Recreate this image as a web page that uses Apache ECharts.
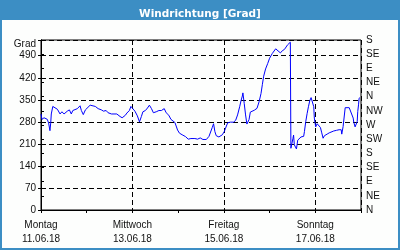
<!DOCTYPE html>
<html><head><meta charset="utf-8">
<script src="https://cdn.jsdelivr.net/npm/echarts@6/dist/echarts.min.js"></script>
<style>html,body{margin:0;padding:0;background:#fff}#c{width:400px;height:250px}</style>
</head><body><div id="c"></div>
<script>
const titleText = 'Windrichtung [Grad]';
const dayNames = ['Montag','Dienstag','Mittwoch','Donnerstag','Freitag','Samstag','Sonntag'];
const dayDates = ['11.06.18','12.06.18','13.06.18','14.06.18','15.06.18','16.06.18','17.06.18'];
const dirLabels = ['N','NE','E','SE','S','SW','W','NW','N','NE','E','SE','S'];
// hours since 11.06.18 00:00
const hours = [0,0.5,1.6,3.3,4.0,4.7,5.1,5.4,6.2,6.8,8.6,10.0,11.0,12.1,13.8,14.9,15.9,16.7,17.7,19.1,20.5,21.2,22.2,23.3,24.3,25.8,26.4,28.5,30.0,31.7,32.8,34.2,35.2,37.0,38.0,39.8,41.5,42.6,43.3,44.3,45.1,45.7,46.4,47.2,48.2,49.3,50.6,51.7,52.7,53.5,54.8,55.9,56.9,58.0,59.0,60.5,61.9,63.2,64.7,65.7,67.1,68.2,69.2,70.3,71.7,72.7,74.1,75.9,77.3,78.7,80.8,82.2,83.6,85.0,86.8,88.2,88.9,89.9,90.6,91.3,92.0,93.4,94.1,95.2,96.2,96.9,98.0,99.4,101.1,102.2,103.2,104.3,105.0,105.7,106.0,106.7,107.4,108.1,109.2,109.9,110.9,112.0,112.7,113.4,114.1,114.5,115.5,116.2,116.9,117.9,119.0,120.0,121.4,123.2,124.2,125.7,126.7,127.8,129.5,130.9,131.2,132.3,132.6,133.0,133.7,134.1,134.8,135.5,136.5,137.9,138.3,139.0,139.7,140.4,141.1,141.8,142.5,143.2,143.5,144.2,145.0,146.0,146.7,147.4,148.1,148.8,150.2,151.3,152.3,153.7,155.1,156.5,157.6,157.9,158.6,159.7,160.7,161.8,162.8,163.9,164.2,164.9,165.3,166.0,166.3,166.7,167.0,167.4];
const windDeg = [305,288,293,288,276,252,276,305,329,335,320,305,312,305,314,318,305,316,314,322,331,316,303,318,320,333,335,329,322,318,314,316,309,305,309,305,297,293,293,301,308,303,316,329,322,314,299,280,297,312,316,324,333,322,309,312,316,316,322,309,301,288,290,278,254,244,239,233,225,227,227,225,229,224,224,234,236,262,274,249,236,232,230,239,249,260,277,279,279,285,302,328,347,362,372,338,302,273,287,311,311,317,311,323,317,344,370,398,425,448,465,482,497,512,508,499,506,510,525,533,196,228,238,207,211,194,222,228,232,234,249,281,306,328,347,357,357,328,292,264,274,273,262,245,228,236,241,245,249,251,253,255,255,241,265,325,328,325,319,292,279,264,270,281,313,334,355,357];

const font = 'Liberation Sans, Arial, sans-serif';
const txt = '#111';
const chart = echarts.init(document.getElementById('c'), null, {renderer:'canvas'});
chart.setOption({
  animation:false,
  backgroundColor:'#fdfefd',
  graphic:[
    {type:'rect', z:-10, shape:{x:1,y:1,width:398,height:248}, style:{fill:'#fdfefd', stroke:'#3c8ec4', lineWidth:2}},
    {type:'rect', z:-9, shape:{x:0,y:0,width:400,height:20}, style:{fill:'#3c8ec4'}}
  ],
  title:{text:titleText, left:'center', top:4, textStyle:{color:'#fff', fontSize:10.5, fontWeight:'bold', fontFamily:'DejaVu Sans, Verdana, sans-serif'}},
  grid:{left:41, right:39, top:40, bottom:40, show:true, borderColor:'#000', borderWidth:1, backgroundColor:'transparent'},
  xAxis:[
    {type:'value', min:0, max:168, interval:48, position:'bottom',
     axisLine:{lineStyle:{color:'#000', width:1}},
     axisTick:{show:false},
     splitLine:{show:true, lineStyle:{color:'#000', type:[5,3], width:1}},
     axisLabel:{margin:8, color:txt, fontSize:10, fontFamily:font, lineHeight:14, showMaxLabel:false,
       formatter:function(v){const i=Math.round(v/24); if(i>=7) return ''; return dayNames[i]+'\n'+dayDates[i];}}},
    {type:'value', min:0, max:168, interval:24, position:'bottom',
     axisLine:{show:false}, axisLabel:{show:false}, splitLine:{show:false},
     axisTick:{show:true, length:3, lineStyle:{color:'#000'}}}
  ],
  yAxis:[
    {type:'value', min:0, max:540, interval:70, position:'left',
     axisLine:{show:true, lineStyle:{color:'#000'}},
     axisTick:{show:true, length:3, lineStyle:{color:'#000'}},
     splitLine:{show:true, lineStyle:{color:'#000', type:[5,3], width:1}},
     axisLabel:{margin:5, color:txt, fontSize:10, fontFamily:font, showMaxLabel:true,
       formatter:function(v){return v>=540 ? '{g|Grad}' : String(v);},
       rich:{g:{fontSize:10, fontFamily:font, color:txt, padding:[9,0,0,0]}}}},
    {type:'value', min:0, max:540, interval:45, position:'right',
     axisLine:{show:true, lineStyle:{color:'#000'}},
     axisTick:{show:true, length:3, lineStyle:{color:'#000'}},
     splitLine:{show:false},
     axisLabel:{margin:5, color:txt, fontSize:10, fontFamily:font, showMaxLabel:true, showMinLabel:true,
       formatter:function(v){return dirLabels[Math.round(v/45)];}}}
  ],
  series:[{type:'line', xAxisIndex:0, yAxisIndex:0, showSymbol:false, symbol:'none',
    lineStyle:{color:'#0000ff', width:1}, data:hours.map((h,i)=>[h, windDeg[i]])}]
});
</script></body></html>
